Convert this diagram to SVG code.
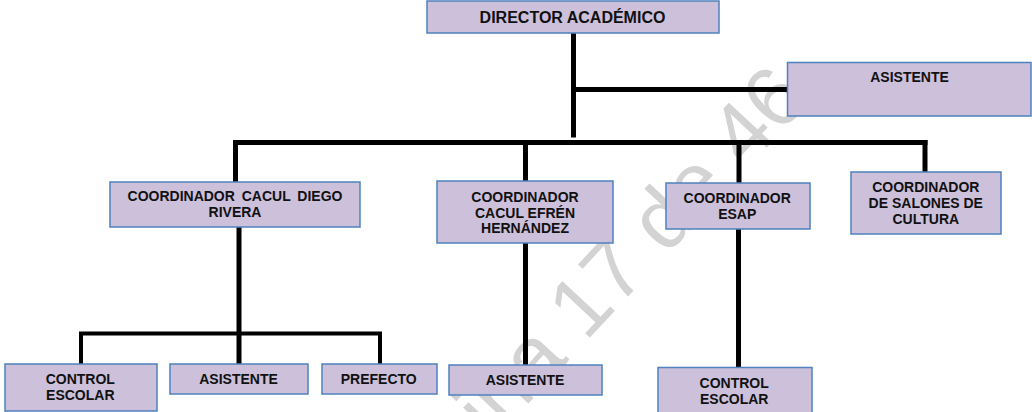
<svg xmlns="http://www.w3.org/2000/svg" width="1032" height="412" viewBox="0 0 1032 412">
<style>
.box{fill:#CCC0DA;stroke:#4F81BD;stroke-width:1.5}
.t{font-family:"Liberation Sans",Arial,sans-serif;font-weight:bold;font-size:14px;fill:#111;text-anchor:middle}
.big{font-size:16px}
.ln{stroke:#000;stroke-width:5;fill:none;stroke-linecap:butt}
.wm{font-family:"Liberation Sans",Arial,sans-serif;font-size:85px;fill:#d3d3d3}
</style>
<rect width="1032" height="412" fill="#fff"/>
<text class="wm" transform="translate(389,553) rotate(-47)">Página 17 de 46</text>
<g id="connectors">
<path class="ln" d="M573.5 33V137.5"/>
<path class="ln" d="M573.5 89.5H787"/>
<path class="ln" d="M233 142.5H927.5"/>
<path class="ln" d="M235.5 140V182"/>
<path class="ln" d="M525.5 142.5V181"/>
<path class="ln" d="M739 142.5V183"/>
<path class="ln" d="M925 140V172"/>
<path class="ln" d="M239 227V364"/>
<path class="ln" d="M81 364V333.5H380V364" style="stroke-width:4"/>
<path class="ln" d="M525.5 243V365"/>
<path class="ln" d="M738.5 229V367"/>
</g>
<g id="director"><rect class="box" x="427" y="1" width="292" height="32"/><text class="t big" x="572.5" y="22.7">DIRECTOR ACADÉMICO</text></g>
<g id="asistente-dir"><rect class="box" x="787.5" y="62.5" width="243.5" height="53.5"/><text class="t" x="909.5" y="82">ASISTENTE</text></g>
<g id="coord-diego"><rect class="box" x="110" y="182" width="250" height="45"/><text class="t" x="235" y="201" word-spacing="3">COORDINADOR CACUL DIEGO</text><text class="t" x="235" y="217">RIVERA</text></g>
<g id="coord-efren"><rect class="box" x="437" y="181" width="176" height="62"/><text class="t" x="525" y="201.7">COORDINADOR</text><text class="t" x="525" y="217.7">CACUL EFRÉN</text><text class="t" x="525" y="233.3">HERNÁNDEZ</text></g>
<g id="coord-esap"><rect class="box" x="666" y="183" width="144" height="46"/><text class="t" x="737.2" y="203.3">COORDINADOR</text><text class="t" x="737.2" y="219">ESAP</text></g>
<g id="coord-salones"><rect class="box" x="851" y="172" width="150" height="62"/><text class="t" x="925.8" y="192.3">COORDINADOR</text><text class="t" x="925.8" y="208">DE SALONES DE</text><text class="t" x="925.8" y="224">CULTURA</text></g>
<g id="control-escolar-1"><rect class="box" x="5" y="364" width="152" height="47"/><text class="t" x="80.3" y="384.3">CONTROL</text><text class="t" x="80.3" y="400">ESCOLAR</text></g>
<g id="asistente-1"><rect class="box" x="170" y="364" width="138" height="30"/><text class="t" x="238.5" y="384.3">ASISTENTE</text></g>
<g id="prefecto"><rect class="box" x="322" y="364" width="115" height="30"/><text class="t" x="378.7" y="384.3">PREFECTO</text></g>
<g id="asistente-2"><rect class="box" x="449" y="365" width="153" height="30"/><text class="t" x="525" y="385">ASISTENTE</text></g>
<g id="control-escolar-2"><rect class="box" x="658" y="367.5" width="154" height="50"/><text class="t" x="734.2" y="388.3">CONTROL</text><text class="t" x="734.2" y="404">ESCOLAR</text></g>
</svg>
